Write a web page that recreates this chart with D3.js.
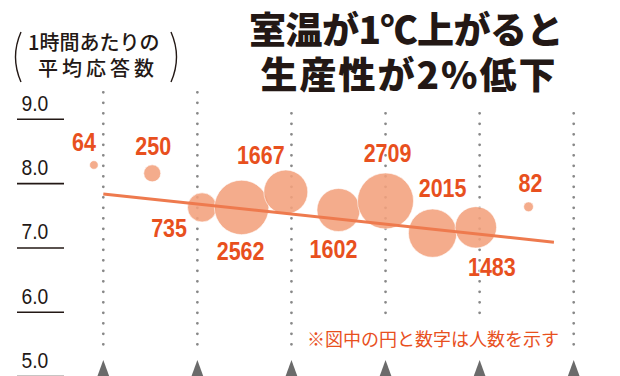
<!DOCTYPE html>
<html>
<head>
  <meta charset="UTF-8">
  <style>
body {
    margin: 0;
    background: #fff;
}
svg {
    display: block;
}
.num {
    font-family: "Liberation Sans", Arial, sans-serif;
    font-weight: bold;
}
.jp {
    font-family: "Noto Sans CJK JP", sans-serif;
}
  </style>
</head>
<body>
<svg id="chart"></svg>

<script src="https://cdn.jsdelivr.net/npm/d3@7"></script>
<script>

let width = 620, height = 376;

// data
let columns = [0, 1, 2, 3, 4, 5];                      // dotted guide columns
let yTicks = [9, 8, 7, 6, 5];
let people = [64, 250, 735, 2562, 1667, 1602, 2709, 2015, 1483, 82];
let pos = [-0.1, 0.52, 1.05, 1.47, 1.94, 2.5, 3.0, 3.5, 3.96, 4.52];   // position along the x axis (column units)
let answers = [8.29, 8.16, 7.63, 7.63, 7.87, 7.59, 7.73, 7.23, 7.32, 7.64];
let trendX = [0, 4.79];
let trendY = [7.84, 7.09];

// where each number sits relative to its circle
let labelNudge = [[-10, -14], [1, -18], [-33, 30], [-1, 53], [-25, -28], [-5, 48], [2, -39], [10, -36], [16, 49], [2, -15]];

let svg = d3.select("#chart")
    .attr("width", width)
    .attr("height", height);

let x = d3.scaleLinear().domain([0, 5]).range([103.3, 573.7]);
let y = d3.scaleLinear().domain([5, 9]).range([376.6, 119.3]);
let r = d3.scaleSqrt().domain([0, 2709]).range([0, 28]);

// title
let title = svg.append("g").attr("class", "jp")
    .style("font-weight", 900)
    .style("font-size", "37px")
    .attr("text-anchor", "middle")
    .attr("fill", "#231815");
title.append("text").attr("x", 406).attr("y", 44).style("letter-spacing", "-0.5px").text("室温が1℃上がると");
title.append("text").attr("x", 409).attr("y", 89).style("letter-spacing", "2px").text("生産性が2%低下");

// y axis caption with brackets
let cap = svg.append("g").attr("class", "jp")
    .style("font-weight", 500)
    .style("font-size", "20px")
    .attr("fill", "#231815");
cap.append("text").attr("x", 28).attr("y", 50).text("1時間あたりの");
cap.append("text").attr("x", 38).attr("y", 76).style("letter-spacing", "4px").text("平均応答数");
cap.append("path").attr("d", "M21,32 Q10,57 21,82")
    .attr("fill", "none").attr("stroke", "#231815").attr("stroke-width", 1.4);
cap.append("path").attr("d", "M171,32 Q182,57 171,82")
    .attr("fill", "none").attr("stroke", "#231815").attr("stroke-width", 1.4);

// y ticks: value with a rule under it
let ticks = svg.append("g");
ticks.selectAll("line")
    .data(yTicks)
    .enter()
    .append("line")
    .attr("x1", 17).attr("x2", 64)
    .attr("y1", d => y(d)).attr("y2", d => y(d))
    .attr("stroke", "#231815")
    .attr("stroke-width", 1.6);
ticks.selectAll("text")
    .data(yTicks)
    .enter()
    .append("text")
    .attr("transform", d => "translate(21.5," + (y(d) - 8.7) + ") scale(0.92,1.05)")
    .style("font-family", "'Liberation Sans', Arial, sans-serif")
    .style("font-size", "21px")
    .attr("fill", "#231815")
    .text(d => d3.format(".1f")(d));

// dotted guides
svg.append("g")
    .selectAll("line")
    .data(columns)
    .enter()
    .append("line")
    .attr("x1", d => x(d)).attr("x2", d => x(d))
    .attr("y1", (d, i) => i < 2 ? 92.3 : 113.3)
    .attr("y2", 351)
    .attr("stroke", "#888")
    .attr("stroke-width", 2.8)
    .attr("stroke-linecap", "round")
    .attr("stroke-dasharray", "0 10.5");

// triangles at the bottom
svg.append("g")
    .selectAll("path")
    .data(columns)
    .enter()
    .append("path")
    .attr("d", d => "M" + x(d) + ",360 L" + (x(d) + 8) + ",382 L" + (x(d) - 8) + ",382 Z")
    .attr("fill", "#6b6b6b");

// bubbles
let pts = people.map((p, i) => ({p: p, x: pos[i], y: answers[i], nudge: labelNudge[i]}));

svg.append("g")
    .selectAll("circle")
    .data(pts)
    .enter()
    .append("circle")
    .attr("cx", d => x(d.x))
    .attr("cy", d => y(d.y))
    .attr("r", d => r(d.p))
    .attr("fill", "#f2a07c")
    .attr("fill-opacity", 0.88)
    .attr("stroke", "#fff")
    .attr("stroke-width", 0.6);

// trend line
svg.append("path")
    .datum(trendX.map((v, i) => [v, trendY[i]]))
    .attr("d", d3.line().x(d => x(d[0])).y(d => y(d[1])))
    .attr("stroke", "#ee7a4e")
    .attr("stroke-width", 3)
    .attr("fill", "none");

// numbers, squeezed to look condensed
svg.append("g")
    .attr("class", "num")
    .selectAll("text")
    .data(pts)
    .enter()
    .append("text")
    .attr("transform", d => "translate(" + (x(d.x) + d.nudge[0]) + "," + (y(d.y) + d.nudge[1]) + ") scale(0.86,1)")
    .attr("text-anchor", "middle")
    .style("font-size", "25px")
    .attr("fill", "#e8501e")
    .attr("stroke", "#fff")
    .attr("stroke-width", 2)
    .style("paint-order", "stroke")
    .text(d => d.p);

// footnote
svg.append("rect")
    .attr("x", 300).attr("y", 322)
    .attr("width", 262).attr("height", 30)
    .attr("fill", "#fff");
svg.append("text")
    .attr("class", "jp")
    .attr("x", 307).attr("y", 346)
    .style("font-size", "18px")
    .attr("fill", "#e8501e")
    .text("※図中の円と数字は人数を示す");

</script>
</body>
</html>
